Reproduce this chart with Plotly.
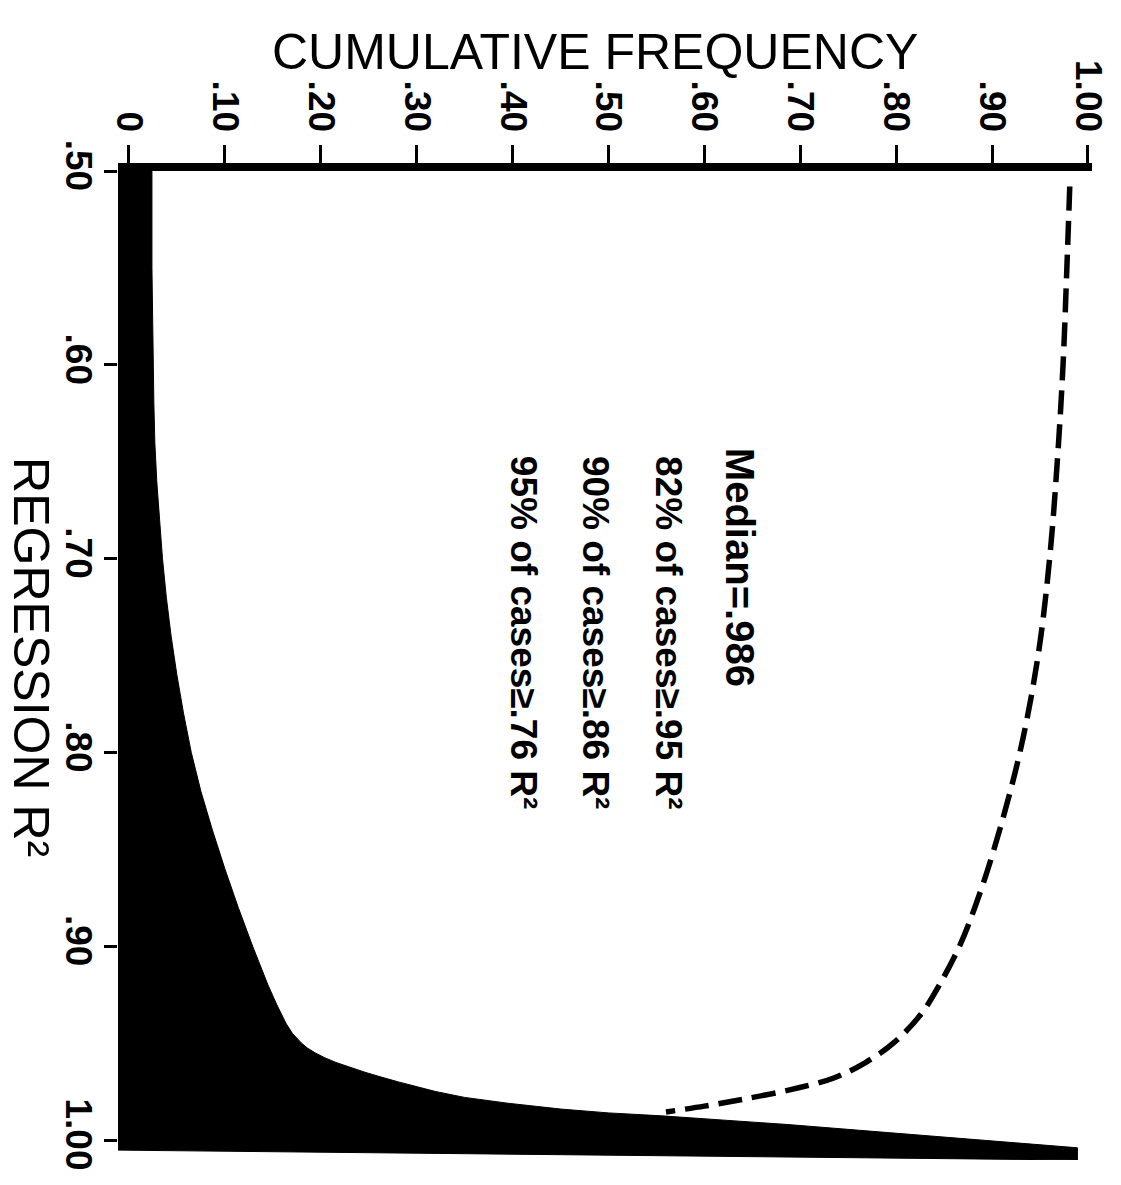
import plotly.graph_objects as go

# Regression R^2 values (vertical axis, increasing downward)
r2_values = [0.500, 0.550, 0.600, 0.620, 0.640, 0.660, 0.680, 0.700, 0.720, 0.740,
             0.760, 0.780, 0.800, 0.820, 0.840, 0.860, 0.880, 0.900, 0.920, 0.930,
             0.940, 0.945, 0.950, 0.9525, 0.955, 0.9575, 0.960, 0.9625, 0.965, 0.9675,
             0.970, 0.975, 0.978, 0.981, 0.984, 0.986, 0.9875, 0.992, 0.998, 1.004]
# Cumulative frequency of cases (solid black area)
cum_freq = [0.024, 0.024, 0.025, 0.026, 0.027, 0.029, 0.032, 0.035, 0.039, 0.044,
            0.050, 0.057, 0.065, 0.075, 0.087, 0.100, 0.114, 0.129, 0.145, 0.154,
            0.164, 0.1705, 0.180, 0.186, 0.194, 0.204, 0.216, 0.230, 0.246, 0.263,
            0.281, 0.320, 0.350, 0.395, 0.450, 0.500, 0.555, 0.687, 0.840, 0.989]

# Dashed comparison curve
dash_r2 = [0.508, 0.550, 0.600, 0.650, 0.700, 0.750, 0.800, 0.850, 0.880, 0.900,
           0.920, 0.935, 0.950, 0.960, 0.968, 0.974, 0.979, 0.9825, 0.9855]
dash_freq = [0.981, 0.978, 0.974, 0.968, 0.960, 0.948, 0.929, 0.902, 0.882, 0.866,
             0.845, 0.826, 0.797, 0.768, 0.735, 0.690, 0.640, 0.600, 0.560]

freq_ticks = [0, 0.1, 0.2, 0.3, 0.4, 0.5, 0.6, 0.7, 0.8, 0.9, 1.0]
freq_labels = ["0", ".10", ".20", ".30", ".40", ".50", ".60", ".70", ".80", ".90", "1.00"]
r2_ticks = [0.5, 0.6, 0.7, 0.8, 0.9, 1.0]
r2_labels = [".50", ".60", ".70", ".80", ".90", "1.00"]

notes = ["Median=.986", "82% of cases≥.95 R²", "90% of cases≥.86 R²", "95% of cases≥.76 R²"]

X_RANGE = [-0.0114, 1.0042]
Y_RANGE = [1.0103, 0.5]
BASE_LEFT = 1.0052   # lower edge of the black area at the left axis
BASE_RIGHT = 1.0103  # lower edge of the black area at its tip

FONT = "Liberation Sans, Arial, Helvetica, sans-serif"

fig = go.Figure()

# Solid black area between the left axis and the cumulative curve
fig.add_trace(go.Scatter(
    x=[X_RANGE[0]] + cum_freq + [cum_freq[-1], X_RANGE[0]],
    y=[r2_values[0]] + r2_values + [BASE_RIGHT, BASE_LEFT],
    mode="lines", fill="toself", fillcolor="black",
    line=dict(color="black", width=1), hoverinfo="skip", showlegend=False,
))

# Dashed curve
fig.add_trace(go.Scatter(
    x=dash_freq, y=dash_r2, mode="lines",
    line=dict(color="black", width=5.5, dash="24px,10px", shape="spline", smoothing=1.0),
    showlegend=False,
))

tick_font = dict(family=FONT, size=37, color="black", weight="bold")

fig.update_xaxes(
    side="top", range=X_RANGE, tickmode="array", tickvals=freq_ticks, ticktext=freq_labels,
    tickangle=90, ticks="outside", ticklen=18, tickwidth=2.5, tickcolor="black",
    showline=True, linewidth=8, linecolor="black", showgrid=False, zeroline=False,
    tickfont=tick_font,
)
fig.update_yaxes(
    range=Y_RANGE, tickmode="array", tickvals=r2_ticks, ticktext=r2_labels,
    tickangle=90, ticks="outside", ticklen=13, tickwidth=2.5, tickcolor="black",
    showline=False, showgrid=False, zeroline=False, ticklabelstandoff=-6,
    tickfont=tick_font,
)

# Axis titles
fig.add_annotation(
    text="CUMULATIVE FREQUENCY", xref="x", yref="paper", x=0.486, y=1.1206,
    xanchor="center", yanchor="middle", showarrow=False,
    font=dict(family=FONT, size=50, color="black"),
)
fig.add_annotation(
    text="REGRESSION R²", xref="paper", yref="y", x=-0.09, y=0.751,
    xanchor="center", yanchor="middle", textangle=90, showarrow=False,
    font=dict(family=FONT, size=50, color="black"),
)

# Summary statistics, written down the plot area
note_x = [0.637, 0.562, 0.486, 0.411]
note_y = [0.642, 0.646, 0.646, 0.646]
note_size = [40, 37, 37, 37]
for txt, nx, ny, ns in zip(notes, note_x, note_y, note_size):
    fig.add_annotation(
        text=txt, xref="x", yref="y", x=nx, y=ny, xanchor="center", yanchor="top",
        textangle=90, showarrow=False,
        font=dict(family=FONT, size=ns, color="black", weight="bold"),
    )

fig.update_layout(
    width=1121, height=1185, margin=dict(l=118, r=26, t=171, b=25),
    paper_bgcolor="white", plot_bgcolor="white",
)

fig.write_html("out.html")
